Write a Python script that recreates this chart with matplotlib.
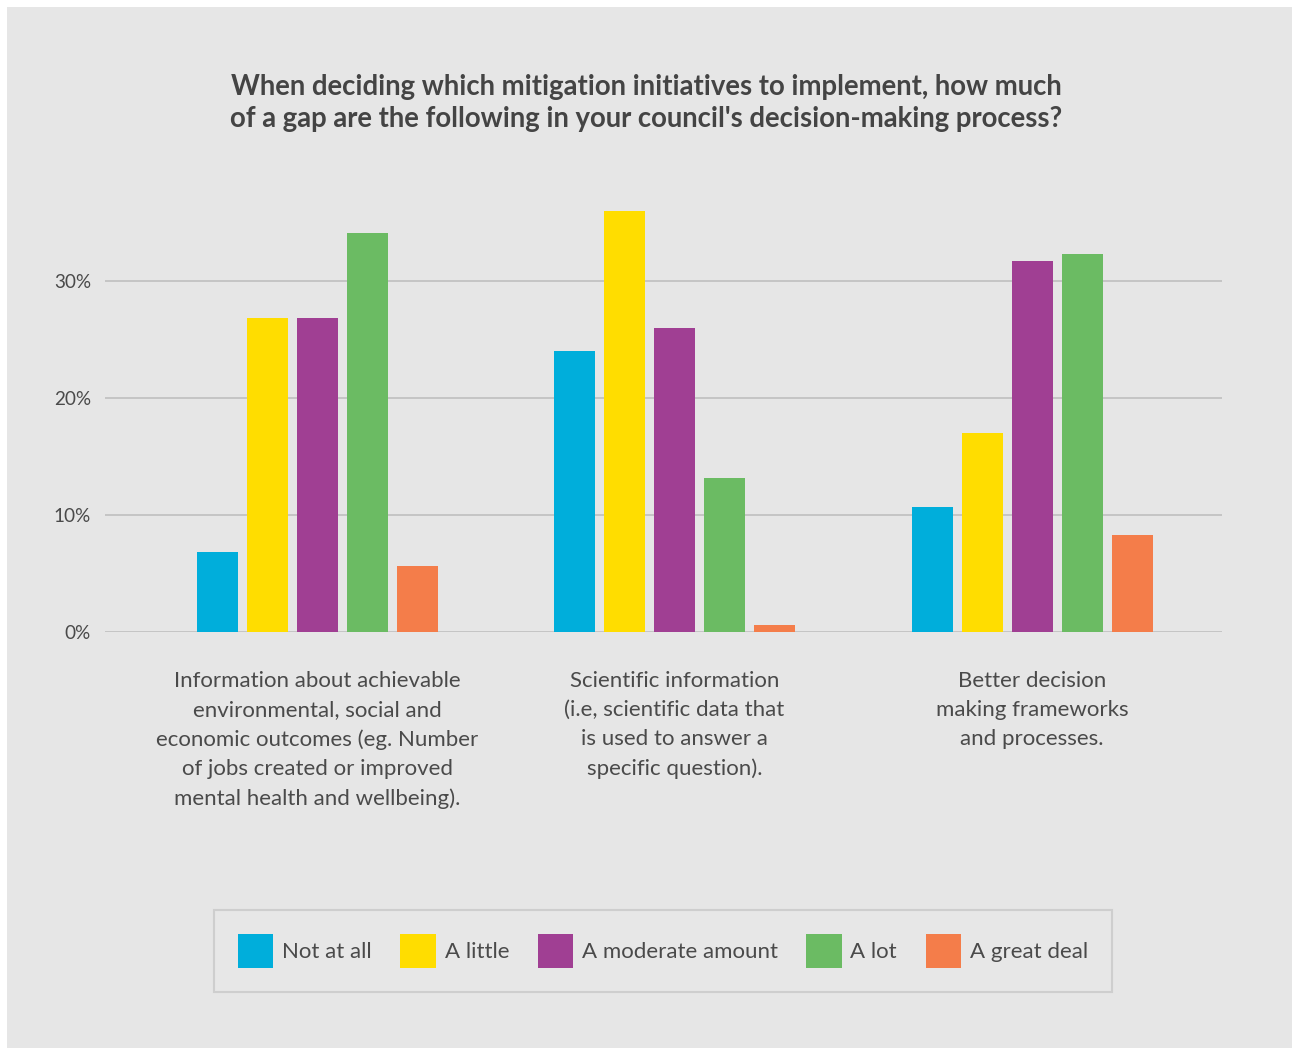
import numpy as np
import matplotlib
matplotlib.use("Agg")
import matplotlib.pyplot as plt
from matplotlib.patches import Patch, Rectangle

# data (percent of respondents)
categories = [
    "Information about achievable\nenvironmental, social and\neconomic outcomes (eg. Number\nof jobs created or improved\nmental health and wellbeing).",
    "Scientific information\n(i.e, scientific data that\nis used to answer a\nspecific question).",
    "Better decision\nmaking frameworks\nand processes.",
]
series_names = ["Not at all", "A little", "A moderate amount", "A lot", "A great deal"]
not_at_all = [6.8, 24.0, 10.7]
a_little = [26.8, 36.0, 17.0]
moderate = [26.8, 26.0, 31.7]
a_lot = [34.1, 13.2, 32.3]
great_deal = [5.6, 0.6, 8.3]
yticks = [0, 10, 20, 30]

colors = ["#00AEDB", "#FFDD00", "#A03F93", "#6BBB63", "#F47D4A"]
BG = "#e6e6e6"
TXT = "#4a4a4a"

plt.rcParams["font.family"] = ["Lato", "DejaVu Sans"]

W, H = 1292, 1048
fig = plt.figure(figsize=(W / 100, H / 100), dpi=100)
fig.patch.set_facecolor("white")
# grey panel with a thin white margin on top/left
fig.patches.append(Rectangle((7 / W, 0), 1 - 7 / W, 1 - 7 / H,
                             transform=fig.transFigure, facecolor=BG,
                             edgecolor="none", zorder=-10))

left, right = 105 / W, 1222 / W
bottom = (H - 632) / H
ymax = 38
top_px = 632 - ymax * 11.7
ax = fig.add_axes([left, bottom, right - left, (632 - top_px) / H])
ax.set_facecolor("none")

x = np.arange(len(categories))
step = 50 / 357.5
width = 41 / 357.5
all_series = [not_at_all, a_little, moderate, a_lot, great_deal]
for i, (vals, col, name) in enumerate(zip(all_series, colors, series_names)):
    ax.bar(x + (i - 2) * step, vals, width=width, color=col, label=name, zorder=3)

ax.set_xlim(-0.593, 2.531)
ax.set_ylim(0, ymax)
ax.set_yticks(yticks)
ax.set_yticklabels([f"{t}%" for t in yticks], fontsize=13.6, color=TXT)
ax.yaxis.grid(True, color="#c2c2c2", linewidth=1.3, zorder=0)
ax.set_axisbelow(True)
ax.tick_params(axis="y", length=0, pad=10)
ax.tick_params(axis="x", length=0, pad=28)
ax.set_xticks(x)
ax.set_xticklabels(categories, fontsize=16, color=TXT, linespacing=1.57,
                   va="top")
for s in ax.spines.values():
    s.set_visible(False)

fig.text(0.5, 1 - 103 / H, "When deciding which mitigation initiatives to implement, how much\n"
         "of a gap are the following in your council's decision-making process?",
         ha="center", va="center", fontsize=19.8, fontweight="bold", color="#444444",
         linespacing=1.25)

handles = [Patch(facecolor=c, edgecolor="none") for c in colors]
leg = fig.legend(handles, series_names, loc="center",
                 bbox_to_anchor=(663 / W, 1 - 951 / H), ncol=5, frameon=True,
                 fontsize=16, handlelength=1.59, handleheight=1.98,
                 handletextpad=0.4, columnspacing=1.28, borderpad=1.1,
                 labelcolor=TXT, fancybox=False)
leg.get_frame().set_facecolor("#e8e8e8")
leg.get_frame().set_edgecolor("#c8c8c8")
leg.get_frame().set_linewidth(1.5)

fig.savefig("out.png", dpi=100, facecolor=fig.get_facecolor())
